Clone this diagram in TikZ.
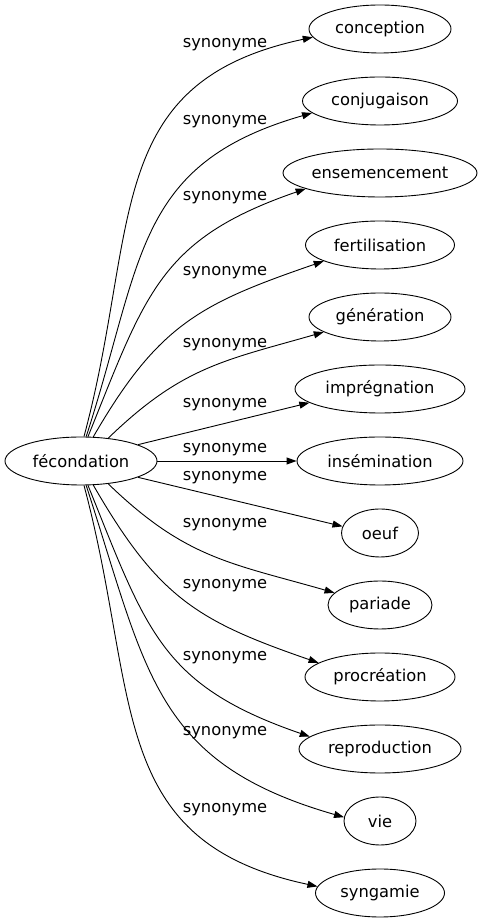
\documentclass[tikz,border=0pt]{standalone}
\usepackage{fontspec}
\setmainfont{DejaVu Sans}
\usetikzlibrary{arrows.meta,shapes.geometric}
\begin{document}
\begin{tikzpicture}[x=1pt,y=1pt,font=\fontsize{16.3}{19}\selectfont,
    wort/.style={draw,ellipse,inner sep=0pt,minimum height=48pt,line width=0.9pt},
    pfeil/.style={line width=0.9pt,-{Triangle[length=10pt,width=7pt]}},
    syn/.style={inner sep=0pt}]
    \useasboundingbox (0,0) rectangle (482,923);
    % Knoten
    \node[wort,minimum width=152pt] (fec) at (81,462) {fécondation};
    \node[wort,minimum width=142pt] (conc) at (380,894) {conception};
    \node[wort,minimum width=155pt] (conj) at (380,822) {conjugaison};
    \node[wort,minimum width=194pt] (ens)  at (380,750) {ensemencement};
    \node[wort,minimum width=149pt] (fert) at (380,678) {fertilisation};
    \node[wort,minimum width=142pt] (gen)  at (380,606) {génération};
    \node[wort,minimum width=170pt] (impr) at (380,534) {imprégnation};
    \node[wort,minimum width=166pt] (ins)  at (380,462) {insémination};
    \node[wort,minimum width=77pt]  (oeuf) at (380,390) {oeuf};
    \node[wort,minimum width=104pt] (par)  at (380,318) {pariade};
    \node[wort,minimum width=150pt] (proc) at (380,246) {procréation};
    \node[wort,minimum width=162pt] (repr) at (380,174) {reproduction};
    \node[wort,minimum width=72pt]  (vie)  at (380,102) {vie};
    \node[wort,minimum width=129pt] (syng) at (380,30)  {syngamie};
    % Beschriftungen
    \node[syn] (s1)  at (225,878) {synonyme};
    \node[syn] (s2)  at (225,801) {synonyme};
    \node[syn] (s3)  at (225,725) {synonyme};
    \node[syn] (s4)  at (225,650) {synonyme};
    \node[syn] (s5)  at (225,578) {synonyme};
    \node[syn] (s6)  at (225,518) {synonyme};
    \node[syn] (s7)  at (225,473) {synonyme};
    \node[syn] (s8)  at (225,445) {synonyme};
    \node[syn] (s9)  at (225,398) {synonyme};
    \node[syn] (s10) at (225,337) {synonyme};
    \node[syn] (s11) at (225,265) {synonyme};
    \node[syn] (s12) at (225,190) {synonyme};
    \node[syn] (s13) at (225,113) {synonyme};
    % Kanten
    \draw[pfeil] (fec.83) to[out=75,in=192,looseness=1.2] (conc.187);
    \draw[pfeil] (fec.78) to[out=72,in=196,looseness=1.2] (conj.190);
    \draw[pfeil] (fec.74) to[out=68,in=199,looseness=1.2] (ens.192);
    \draw[pfeil] (fec.63) to[out=60,in=199,looseness=1.15] (fert.196);
    \draw[pfeil] (fec.40) to[out=44,in=196,looseness=1.1] (gen.195);
    \draw[pfeil] (fec.16) -- (impr.191);
    \draw[pfeil] (fec.east) -- (ins.west);
    \draw[pfeil] (fec.-16) -- (oeuf.170);
    \draw[pfeil] (fec.-40) to[out=-44,in=164,looseness=1.1] (par.165);
    \draw[pfeil] (fec.-63) to[out=-60,in=161,looseness=1.15] (proc.167);
    \draw[pfeil] (fec.-74) to[out=-68,in=161,looseness=1.2] (repr.170);
    \draw[pfeil] (fec.-78) to[out=-72,in=164,looseness=1.2] (vie.174);
    \draw[pfeil] (fec.-83) to[out=-75,in=168,looseness=1.2] (syng.174);
\end{tikzpicture}
\end{document}
